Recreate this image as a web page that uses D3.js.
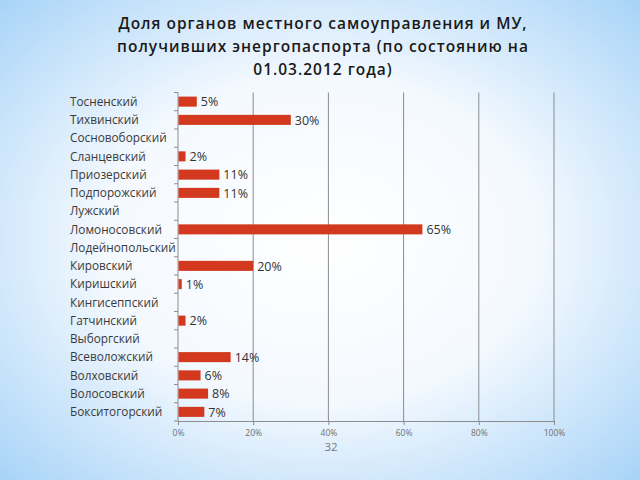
<!DOCTYPE html>
<html><head><meta charset="utf-8">
<script src="https://cdn.jsdelivr.net/npm/d3@7"></script>
<style>html,body{margin:0;padding:0;}body{width:640px;height:480px;overflow:hidden;}</style>
</head><body>
<svg id="c" width="640" height="480"></svg>
<script>
const categories = ["Тосненский","Тихвинский","Сосновоборский","Сланцевский","Приозерский","Подпорожский","Лужский","Ломоносовский","Лодейнопольский","Кировский","Киришский","Кингисеппский","Гатчинский","Выборгский","Всеволожский","Волховский","Волосовский","Бокситогорский"];
const values = [5,30,0,2,11,11,0,65,0,20,1,0,2,0,14,6,8,7];
const xTicks = [0,20,40,60,80,100];
const titleLines = ["Доля органов местного самоуправления и МУ,","получивших энергопаспорта (по состоянию на","01.03.2012 года)"];
const pageNumber = "32";

const svg = d3.select("#c");
const defs = svg.append("defs");
const rg = defs.append("radialGradient").attr("id","bg").attr("cx","50%").attr("cy","50%").attr("r","75%");
rg.append("stop").attr("offset","0%").attr("stop-color","#ffffff");
rg.append("stop").attr("offset","45%").attr("stop-color","#f4f9fe");
rg.append("stop").attr("offset","100%").attr("stop-color","#9fcff7");
svg.append("rect").attr("width",640).attr("height",480).attr("fill","url(#bg)");

const x0 = 178, x1 = 554, y0 = 92.5, y1 = 421;
const x = d3.scaleLinear().domain([0,100]).range([x0,x1]);
const y = d3.scaleBand().domain(categories).range([y0,y1]).paddingInner(0.45).paddingOuter(0.225);

// title
svg.append("g").selectAll("text").data(titleLines).join("text")
  .attr("x",323).attr("y",(d,i)=>29+i*23).attr("text-anchor","middle")
  .attr("font-family","Open Sans, sans-serif").attr("font-weight",600)
  .attr("letter-spacing","1px")
  .attr("font-size",15.5).attr("fill","#1a1a1a").text(d=>d);

// grid
svg.append("g").selectAll("line").data(xTicks.slice(1)).join("line")
  .attr("x1",d=>x(d)).attr("x2",d=>x(d)).attr("y1",y0).attr("y2",y1)
  .attr("stroke","#8c8c8c").attr("stroke-width",1);

// x axis
const xa = svg.append("g").attr("transform",`translate(0,${y1})`)
  .call(d3.axisBottom(x).tickValues(xTicks).tickFormat(d=>d+"%").tickSize(4).tickSizeOuter(0));
xa.select(".domain").attr("stroke","#8c8c8c");
xa.selectAll(".tick line").attr("stroke","#8c8c8c");
xa.selectAll("text").attr("font-family","Open Sans, sans-serif").attr("font-size",8.5).attr("fill","#707070").attr("dy","0.9em");

// y axis line + ticks at band boundaries
const bounds = d3.range(categories.length+1).map(i=>y0+i*(y1-y0)/categories.length);
svg.append("line").attr("x1",x0).attr("x2",x0).attr("y1",y0).attr("y2",y1).attr("stroke","#8c8c8c");
svg.append("g").selectAll("line").data(bounds).join("line")
  .attr("x1",x0-4).attr("x2",x0).attr("y1",d=>d).attr("y2",d=>d).attr("stroke","#8c8c8c");

// category labels
svg.append("g").selectAll("text").data(categories).join("text")
  .attr("x",70).attr("y",d=>y(d)+y.bandwidth()/2).attr("dy","0.35em")
  .attr("font-family","Open Sans, sans-serif").attr("font-size",11.8).attr("fill","#3a3a3a").text(d=>d);

// bars
const data = categories.map((c,i)=>({c,v:values[i]})).filter(d=>d.v>0);
svg.append("g").selectAll("rect").data(data).join("rect")
  .attr("x",x0+0.5).attr("y",d=>y(d.c)).attr("width",d=>x(d.v)-x0-0.5).attr("height",y.bandwidth())
  .attr("fill","#d2391f");
svg.append("g").selectAll("text").data(data).join("text")
  .attr("x",d=>x(d.v)+4).attr("y",d=>y(d.c)+y.bandwidth()/2).attr("dy","0.37em")
  .attr("font-family","Open Sans, sans-serif").attr("font-size",12.5).attr("fill","#333").text(d=>d.v+"%");

svg.append("text").attr("x",331).attr("y",451).attr("text-anchor","middle")
  .attr("font-family","Open Sans, sans-serif").attr("font-size",11.5).attr("fill","#777").text(pageNumber);
</script>
</body></html>
